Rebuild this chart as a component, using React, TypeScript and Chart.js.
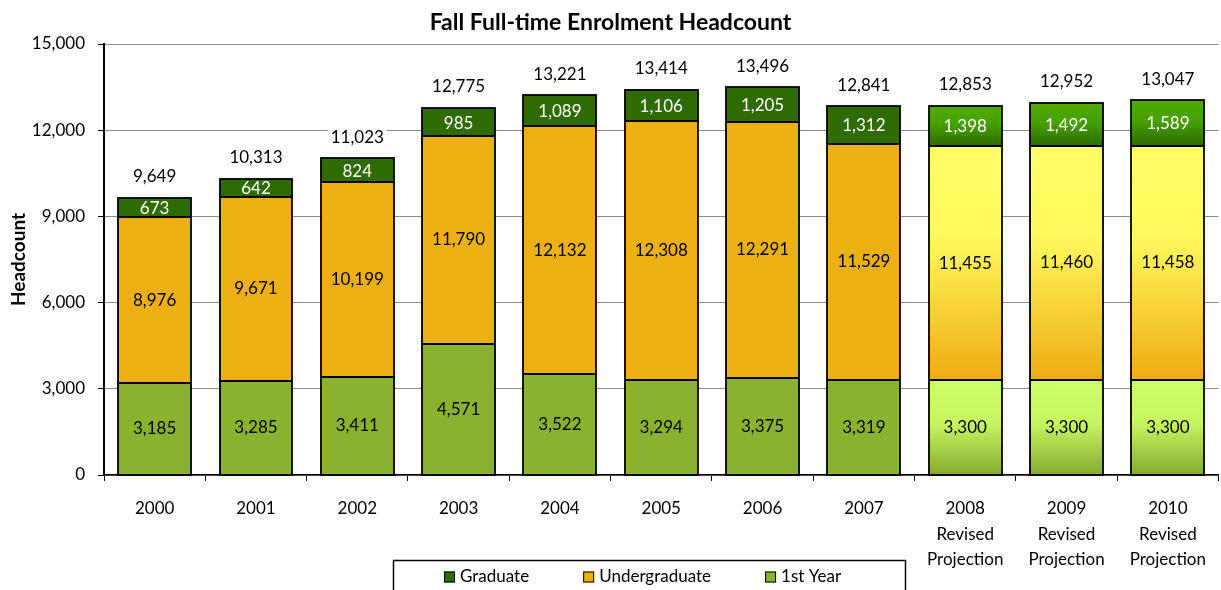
import React, { useEffect, useRef } from "react";
import { Chart, registerables } from "chart.js";

Chart.register(...registerables);

const FONT = "Lato, 'Open Sans', sans-serif";

const categories: (string | string[])[] = [
  "2000", "2001", "2002", "2003", "2004", "2005", "2006", "2007",
  ["2008", "Revised", "Projection"],
  ["2009", "Revised", "Projection"],
  ["2010", "Revised", "Projection"],
];
const firstYear = [3185, 3285, 3411, 4571, 3522, 3294, 3375, 3319, 3300, 3300, 3300];
// cumulative undergraduate headcount (1st year included), as labelled
const undergradTotal = [8976, 9671, 10199, 11790, 12132, 12308, 12291, 11529, 11455, 11460, 11458];
const graduate = [673, 642, 824, 985, 1089, 1106, 1205, 1312, 1398, 1492, 1589];
const totals = [9649, 10313, 11023, 12775, 13221, 13414, 13496, 12841, 12853, 12952, 13047];
const yTicks = [0, 3000, 6000, 9000, 12000, 15000];
const PROJ_START = 8;

const upperUndergrad = undergradTotal.map((v, i) => v - firstYear[i]);

const GRAD = "#2f6b03";
const UG = "#ecb012";
const FY = "#8ab22f";

const GRAD_STOPS: [number, string][] = [[0, "#4faa00"], [0.45, "#47a100"], [1, "#2d6a00"]];
const UG_STOPS: [number, string][] = [[0, "#ffff66"], [0.38, "#fffa5f"], [1, "#eeac12"]];
const FY_STOPS: [number, string][] = [[0, "#ccff66"], [0.45, "#c6f661"], [1, "#86aa2f"]];

const fmt = (v: number) => v.toLocaleString("en-US");

function projFill(solid: string, stops: [number, string][], range: (i: number) => [number, number]) {
  return (c: any) => {
    if (c.type !== "data" || c.dataIndex < PROJ_START) return solid;
    const chart = c.chart;
    const ys = chart.scales?.y;
    if (!ys) return solid;
    const [lo, hi] = range(c.dataIndex);
    const top = ys.getPixelForValue(hi);
    const bot = ys.getPixelForValue(lo);
    if (!isFinite(top) || !isFinite(bot) || top === bot) return solid;
    const g = chart.ctx.createLinearGradient(0, top, 0, bot);
    stops.forEach(([o, col]) => g.addColorStop(o, col));
    return g;
  };
}

const outlines = {
  id: "outlines",
  afterDatasetsDraw(chart: any) {
    const ctx = chart.ctx;
    ctx.save();
    ctx.strokeStyle = "#000";
    ctx.lineWidth = 1.8;
    chart.data.datasets.forEach((_: any, d: number) => {
      chart.getDatasetMeta(d).data.forEach((el: any) => {
        const { x, y, base, width } = el.getProps(["x", "y", "base", "width"], true);
        const l = Math.round(x - width / 2);
        const r = Math.round(x + width / 2);
        const t = Math.round(Math.min(y, base));
        const b = Math.round(Math.max(y, base));
        ctx.strokeRect(l, t, r - l, b - t);
      });
    });
    ctx.restore();
  },
};

const segLabels = {
  id: "segLabels",
  afterDatasetsDraw(chart: any) {
    const ctx = chart.ctx;
    const m0 = chart.getDatasetMeta(0).data;
    const m1 = chart.getDatasetMeta(1).data;
    const m2 = chart.getDatasetMeta(2).data;
    ctx.save();
    ctx.font = `17px ${FONT}`;
    ctx.textAlign = "center";
    ctx.textBaseline = "middle";
    for (let i = 0; i < categories.length; i++) {
      const e0 = m0[i], e1 = m1[i], e2 = m2[i];
      ctx.fillStyle = "#000";
      ctx.fillText(fmt(firstYear[i]), e0.x, (e0.y + e0.base) / 2);
      ctx.fillText(fmt(undergradTotal[i]), e1.x, (e1.y + e1.base) / 2);
      ctx.fillStyle = "#fff";
      ctx.fillText(fmt(graduate[i]), e2.x, (e2.y + e2.base) / 2 + 1);
      const t = fmt(totals[i]);
      const w = ctx.measureText(t).width;
      const ty = e2.y - 21;
      ctx.fillStyle = "#fff";
      ctx.fillRect(e2.x - w / 2 - 3, ty - 10, w + 6, 20);
      ctx.fillStyle = "#000";
      ctx.fillText(t, e2.x, ty);
    }
    ctx.restore();
  },
};

const boxLegend = {
  id: "boxLegend",
  afterDraw(chart: any) {
    const ctx = chart.ctx;
    const items = [
      { t: "Graduate", c: GRAD },
      { t: "Undergraduate", c: UG },
      { t: "1st Year", c: FY },
    ];
    ctx.save();
    ctx.font = `17px ${FONT}`;
    ctx.textBaseline = "middle";
    ctx.textAlign = "left";
    const sq = 11, gapText = 5, gapItem = 54;
    const widths = items.map((it) => sq + gapText + ctx.measureText(it.t).width);
    const total = widths.reduce((a, b) => a + b, 0) + gapItem * (items.length - 1);
    const cx = 643;
    const cy = 577;
    ctx.strokeStyle = "#000";
    ctx.lineWidth = 1.5;
    ctx.strokeRect(393.5, 560.5, 512, 60);
    let x = Math.round(cx - total / 2);
    items.forEach((it, k) => {
      ctx.fillStyle = it.c;
      ctx.fillRect(x, cy - sq / 2, sq, sq);
      ctx.lineWidth = 1;
      ctx.strokeStyle = "#000";
      ctx.strokeRect(x + 0.5, cy - sq / 2 + 0.5, sq - 1, sq - 1);
      ctx.fillStyle = "#000";
      ctx.fillText(it.t, x + sq + gapText, cy);
      x += widths[k] + gapItem;
    });
    ctx.restore();
  },
};

export default function App() {
  const ref = useRef<HTMLCanvasElement | null>(null);
  useEffect(() => {
    if (!ref.current) return;
    const ds = (label: string, data: number[], bg: any) => ({
      label,
      data,
      backgroundColor: bg,
      borderWidth: 0,
      inflateAmount: 0,
    });
    const chart = new Chart(ref.current, {
      type: "bar",
      data: {
        labels: categories,
        datasets: [
          ds("1st Year", firstYear, projFill(FY, FY_STOPS, (i) => [0, firstYear[i]])),
          ds("Undergraduate", upperUndergrad, projFill(UG, UG_STOPS, (i) => [firstYear[i], undergradTotal[i]])),
          ds("Graduate", graduate, projFill(GRAD, GRAD_STOPS, (i) => [undergradTotal[i], totals[i]])),
        ],
      },
      options: {
        animation: false,
        responsive: true,
        maintainAspectRatio: false,
        layout: { padding: { left: 0, right: 0, top: 0, bottom: 0 } },
        datasets: { bar: { categoryPercentage: 1, barPercentage: 0.72 } },
        plugins: {
          legend: { display: false },
          tooltip: { enabled: false },
          title: {
            display: true,
            text: "Fall Full-time Enrolment Headcount",
            color: "#000",
            font: { family: FONT, size: 23, weight: "bold", lineHeight: 1.2 },
            padding: { top: 9, bottom: 7.4 },
          },
        },
        scales: {
          x: {
            stacked: true,
            grid: { display: true, drawOnChartArea: false, drawTicks: true, tickLength: 6, color: "#000", offset: true },
            border: { display: true, color: "#000", width: 1.5 },
            ticks: {
              color: "#000",
              font: { family: FONT, size: 17, lineHeight: 1.5 },
              padding: 15,
              maxRotation: 0,
              autoSkip: false,
            },
            afterFit: (s: any) => { s.height = 115; },
          },
          y: {
            stacked: true,
            min: 0,
            max: 15000,
            afterBuildTicks: (s: any) => { s.ticks = yTicks.map((v) => ({ value: v })); },
            ticks: {
              color: "#000",
              font: { family: FONT, size: 17 },
              padding: 13,
              callback: (v: any) => fmt(Number(v)),
            },
            grid: { color: "#8c8c8c", lineWidth: 1, tickColor: "#000", tickLength: 6 },
            border: { display: true, color: "#000", width: 2 },
            title: {
              display: true,
              text: "Headcount",
              color: "#000",
              font: { family: FONT, size: 19, weight: "bold" },
              padding: { top: 7, bottom: 0 },
            },
            afterFit: (s: any) => { s.width = 104; },
          },
        },
      },
      plugins: [outlines, segLabels, boxLegend],
    } as any);
    return () => chart.destroy();
  }, []);
  return (
    <div style={{ position: "fixed", left: 0, top: 0, width: 1221, height: 590, background: "#fff" }}>
      <canvas ref={ref} />
    </div>
  );
}
